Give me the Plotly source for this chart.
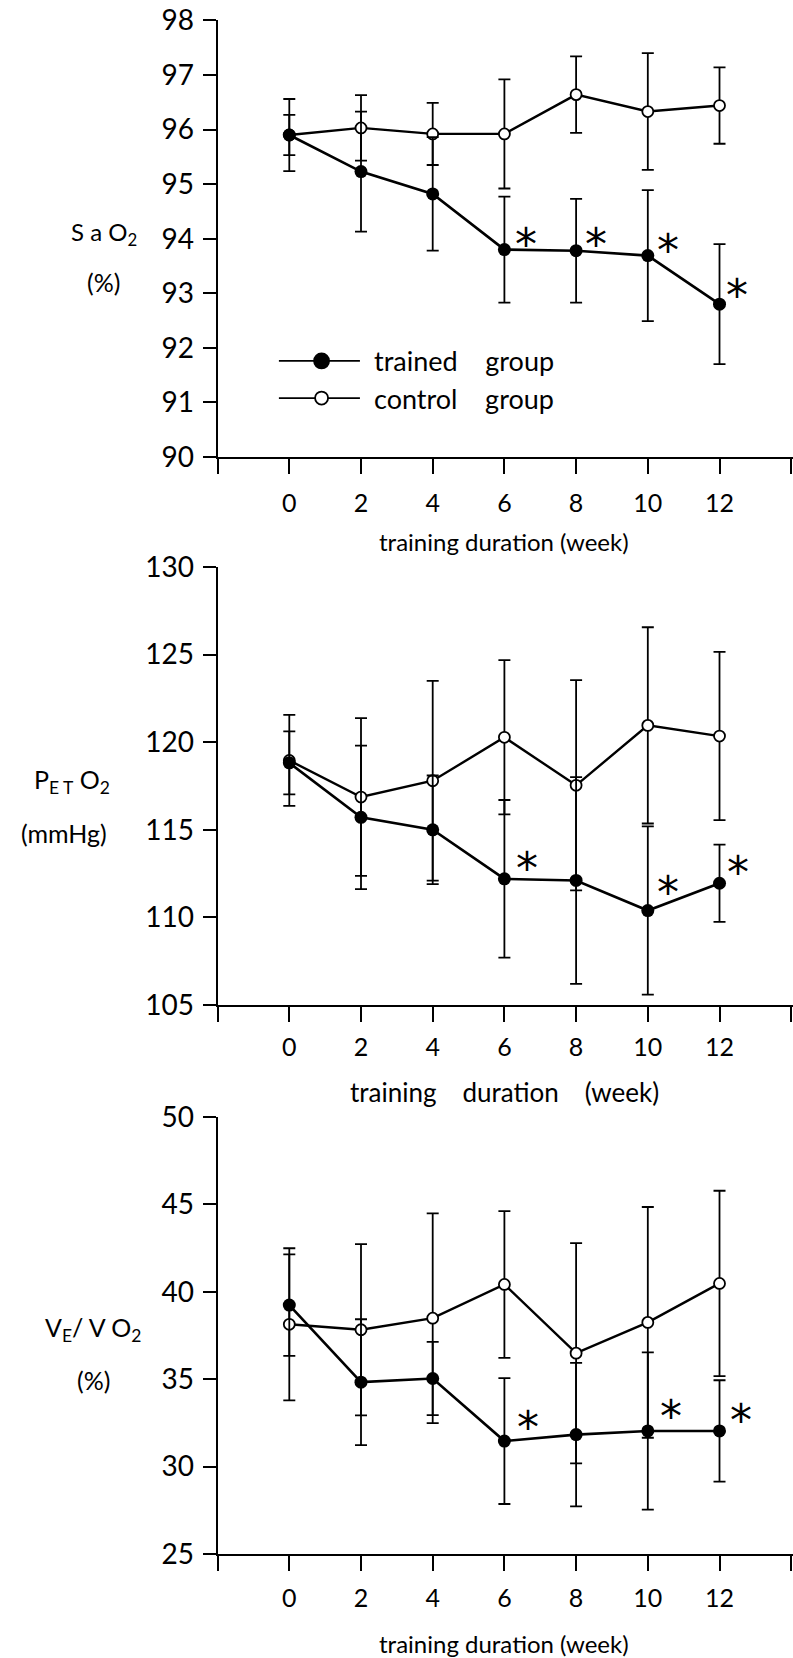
import plotly.graph_objects as go

# ---- data -------------------------------------------------------------
weeks = [0, 2, 4, 6, 8, 10, 12]

# SaO2 (%)
sao2_trained = [95.9, 95.23, 94.82, 93.8, 93.78, 93.69, 92.8]
sao2_trained_sd = [0.37, 1.1, 1.04, 0.97, 0.95, 1.2, 1.1]
sao2_control = [95.9, 96.03, 95.92, 95.92, 96.64, 96.33, 96.44]
sao2_control_sd = [0.66, 0.6, 0.57, 1.0, 0.7, 1.07, 0.7]
sao2_star_x = [6.6, 8.55, 10.55, 12.5]
sao2_star_y = [94.09, 94.09, 93.98, 93.16]

# PETO2 (mmHg)
peto2_trained = [118.82, 115.71, 115.0, 112.2, 112.11, 110.39, 111.95]
peto2_trained_sd = [1.8, 4.1, 3.1, 4.5, 5.9, 4.8, 2.2]
peto2_control = [118.96, 116.87, 117.8, 120.28, 117.54, 120.96, 120.35]
peto2_control_sd = [2.6, 4.5, 5.7, 4.4, 6.0, 5.6, 4.8]
peto2_star_x = [6.62, 10.55, 12.52]
peto2_star_y = [113.41, 112.05, 113.17]

# VE/VO2 (%)
vevo2_trained = [39.24, 34.83, 35.04, 31.46, 31.83, 32.04, 32.04]
vevo2_trained_sd = [2.9, 3.6, 2.1, 3.6, 4.1, 4.5, 2.9]
vevo2_control = [38.14, 37.83, 38.49, 40.42, 36.49, 38.25, 40.48]
vevo2_control_sd = [4.35, 4.9, 6.0, 4.2, 6.3, 6.6, 5.3]
vevo2_star_x = [6.65, 10.65, 12.6]
vevo2_star_y = [32.86, 33.49, 33.28]

x_tickvals = [-2, 0, 2, 4, 6, 8, 10, 12, 14]
x_ticktext = ["", "0", "2", "4", "6", "8", "10", "12", ""]

FONT = "Lato, 'Open Sans', 'Liberation Sans', sans-serif"
STAR_FONT = "'DejaVu Sans', sans-serif"
W, H = 793, 1658

# panel geometry (pixels from the top of the page)
panels = [
    dict(top=20.4, bottom=457.0, yr=[90, 98], dy=1, xstand=8,
         tr=sao2_trained, trsd=sao2_trained_sd, co=sao2_control, cosd=sao2_control_sd,
         sx=sao2_star_x, sy=sao2_star_y),
    dict(top=567.0, bottom=1005.0, yr=[105, 130], dy=5, xstand=4,
         tr=peto2_trained, trsd=peto2_trained_sd, co=peto2_control, cosd=peto2_control_sd,
         sx=peto2_star_x, sy=peto2_star_y),
    dict(top=1117.0, bottom=1554.0, yr=[25, 50], dy=5, xstand=6,
         tr=vevo2_trained, trsd=vevo2_trained_sd, co=vevo2_control, cosd=vevo2_control_sd,
         sx=vevo2_star_x, sy=vevo2_star_y),
]

fig = go.Figure()
x_dom = [217.6 / W, 1.0]

for i, p in enumerate(panels, start=1):
    xa = "x" if i == 1 else f"x{i}"
    ya = "y" if i == 1 else f"y{i}"
    # control group: open circles
    fig.add_trace(go.Scatter(
        x=weeks, y=p["co"], xaxis=xa, yaxis=ya, mode="lines+markers",
        line=dict(color="black", width=2.4),
        marker=dict(symbol="circle", size=11, color="white",
                    line=dict(color="black", width=1.8)),
        error_y=dict(type="data", array=p["cosd"], visible=True,
                     thickness=1.8, width=6, color="black"),
        showlegend=False, cliponaxis=False))
    # trained group: filled circles
    fig.add_trace(go.Scatter(
        x=weeks, y=p["tr"], xaxis=xa, yaxis=ya, mode="lines+markers",
        line=dict(color="black", width=2.6),
        marker=dict(symbol="circle", size=13, color="black"),
        error_y=dict(type="data", array=p["trsd"], visible=True,
                     thickness=1.8, width=6, color="black"),
        showlegend=False, cliponaxis=False))
    # significance marks (the glyph sits high in its box, hence the shift)
    for sx, sy in zip(p["sx"], p["sy"]):
        fig.add_annotation(text="*", x=sx, y=sy, xref=xa, yref=ya, showarrow=False,
                           xanchor="center", yanchor="middle", yshift=-11,
                           font=dict(family=STAR_FONT, size=44, color="black"))

    dom_y = [1 - p["bottom"] / H, 1 - p["top"] / H]
    axis_common = dict(showline=True, linecolor="black", linewidth=2,
                       ticks="outside", tickcolor="black", tickwidth=2,
                       showgrid=False, zeroline=False, automargin=False)
    fig.layout[("xaxis" if i == 1 else f"xaxis{i}")] = dict(
        domain=x_dom, range=[-2, 14.05], anchor=ya,
        tickmode="array", tickvals=x_tickvals, ticktext=x_ticktext,
        ticklen=15, ticklabelstandoff=p["xstand"],
        tickfont=dict(family=FONT, size=25, color="black"), **axis_common)
    fig.layout[("yaxis" if i == 1 else f"yaxis{i}")] = dict(
        domain=dom_y, range=p["yr"], anchor=xa, dtick=p["dy"], tick0=p["yr"][0],
        ticklen=13, ticklabelstandoff=3,
        tickfont=dict(family=FONT, size=28, color="black"), **axis_common)

# x-axis titles
titles = [
    (541, "training duration (week)", 24),
    (1092, "training\u2002\u2002duration\u2002\u2002(week)", 26),
    (1643, "training duration (week)", 24),
]
for i, (yc, txt, fs) in enumerate(titles, start=1):
    fig.add_annotation(text=txt, x=6, xref="x" if i == 1 else f"x{i}",
                       y=1 - yc / H, yref="paper", showarrow=False,
                       xanchor="center", yanchor="middle",
                       font=dict(family=FONT, size=fs, color="black"))

# y-axis titles
ylabels = [
    (104, 234, "S a O<sub>2</sub>", 24),
    (103, 282, "(%)", 25),
    (72, 781, "P<sub>E T</sub> O<sub>2</sub>", 25),
    (64, 833, "(mmHg)", 25),
    (93, 1329, "V<sub>E</sub>/ V O<sub>2</sub>", 25),
    (93, 1380, "(%)", 25),
]
for xc, yc, txt, fs in ylabels:
    fig.add_annotation(text=txt, x=xc / W, y=1 - yc / H, xref="paper", yref="paper",
                       showarrow=False, xanchor="center", yanchor="middle",
                       font=dict(family=FONT, size=fs, color="black"))

# legend inside the first panel
legend_items = [("trained    group", 91.76, "black", 15),
                ("control    group", 91.08, "white", 13)]
for label, yv, fill, sz in legend_items:
    fig.add_shape(type="line", xref="x", yref="y", x0=-0.29, x1=1.97, y0=yv, y1=yv,
                  line=dict(color="black", width=1.8))
    fig.add_shape(type="circle", xref="x", yref="y", xsizemode="pixel", ysizemode="pixel",
                  xanchor=0.9, yanchor=yv, x0=-sz / 2, x1=sz / 2, y0=-sz / 2, y1=sz / 2,
                  fillcolor=fill, line=dict(color="black", width=1.8))
    fig.add_annotation(text=label.replace(" ", "\u00a0"), x=2.3, y=yv, xref="x", yref="y",
                       showarrow=False, xanchor="left", yanchor="middle",
                       font=dict(family=FONT, size=27, color="black"))

fig.update_layout(width=W, height=H, margin=dict(l=0, r=0, t=0, b=0),
                  plot_bgcolor="white", paper_bgcolor="white", showlegend=False)

fig.write_html("out.html")
